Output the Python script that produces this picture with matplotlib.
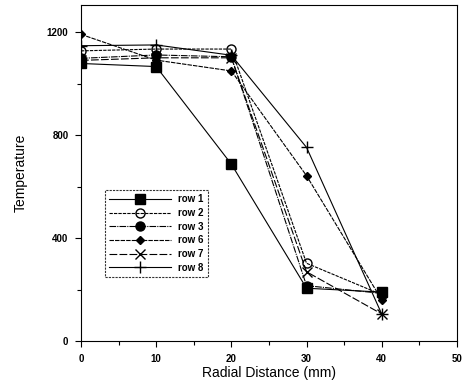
import matplotlib
matplotlib.use('Agg')
import matplotlib.pyplot as plt
from matplotlib.ticker import MultipleLocator

plt.rcParams['font.family'] = ['Liberation Sans', 'DejaVu Sans']

# data
dist = [0, 10, 20, 30, 40]
row1 = [1078, 1066, 687, 205, 190]
row2 = [1127, 1134, 1134, 302, 180]
row3 = [1098, 1111, 1104, 215, 185]
row6 = [1191, 1091, 1049, 642, 160]
row7 = [1090, 1100, 1100, 269, 105]
row8 = [1147, 1150, 1110, 752, 105]

labels = ['row 1', 'row 2', 'row 3', 'row 6', 'row 7', 'row 8']
series = [row1, row2, row3, row6, row7, row8]
markers = ['s', 'o', 'o', 'D', 'x', '+']
fills = ['k', 'none', 'k', 'k', 'k', 'k']
sizes = [6.5, 6.5, 6.5, 4.5, 7, 8]
styles = ['-', (0, (3, 1)), (0, (6, 1, 1, 1)), (0, (4, 1)), (0, (7, 2)), '-']

fig = plt.figure(figsize=(4.67, 3.9), dpi=100)
ax = fig.add_axes([0.1734, 0.1256, 0.805, 0.8615])

for y, lab, m, fc, ms, ls in zip(series, labels, markers, fills, sizes, styles):
    ax.plot(dist, y, color='k', lw=0.8, linestyle=ls, marker=m, markersize=ms,
            markerfacecolor=fc, markeredgecolor='k', markeredgewidth=1.0, label=lab)

ax.set_xlim(0, 50)
ax.set_ylim(0, 1305)
ax.xaxis.set_major_locator(MultipleLocator(10))
ax.xaxis.set_minor_locator(MultipleLocator(5))
ax.yaxis.set_major_locator(MultipleLocator(400))
ax.yaxis.set_minor_locator(MultipleLocator(200))
ax.tick_params(which='both', direction='out', labelsize=7, width=0.8, pad=5)
ax.tick_params(which='major', length=4)
ax.tick_params(which='minor', length=3)
for t in ax.get_xticklabels() + ax.get_yticklabels():
    t.set_fontweight('bold')
for s in ax.spines.values():
    s.set_linewidth(0.8)

ax.set_xlabel('Radial Distance (mm)', fontsize=10, labelpad=2)
ax.set_ylabel('Temperature', fontsize=10, labelpad=14)

leg = ax.legend(loc='lower left', bbox_to_anchor=(0.064, 0.19), fontsize=7,
                frameon=True, fancybox=False, edgecolor='k', borderpad=0.45,
                borderaxespad=0, labelspacing=0.38, handlelength=6.3, markerfirst=True)
leg.get_frame().set_linewidth(0.8)
leg.get_frame().set_linestyle((0, (2, 1)))
for t in leg.get_texts():
    t.set_fontweight('bold')

fig.savefig('out.png', dpi=100)
